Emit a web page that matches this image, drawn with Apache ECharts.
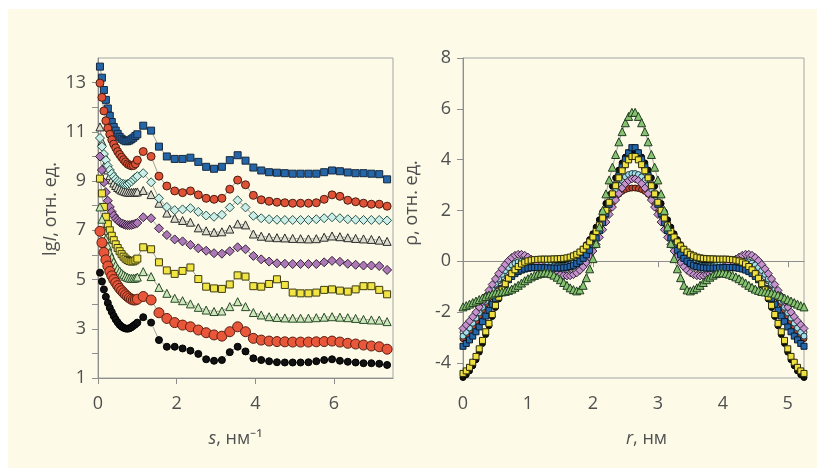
<!DOCTYPE html>
<html>
<head>
<meta charset="utf-8">
<script src="https://cdn.jsdelivr.net/npm/echarts@6/dist/echarts.min.js"></script>
<style>
    html, body { margin: 0; padding: 0; background: #fff; }
    #chart { width: 825px; height: 476px; }
</style>
</head>
<body>
<div id="chart"></div>
<script>
// левая панель: s, нм^-1
var sVals = [0.05, 0.1, 0.15, 0.2, 0.25, 0.3, 0.35, 0.4, 0.45, 0.5, 0.55, 0.6, 0.65, 0.7, 0.75, 0.8, 0.85, 0.9, 0.95, 1.0,
    1.15, 1.35, 1.55, 1.75, 1.95, 2.15, 2.35, 2.55, 2.75, 2.95, 3.15, 3.35, 3.55, 3.75, 3.95, 4.15,
    4.35, 4.55, 4.75, 4.95, 5.15, 5.35, 5.55, 5.75, 5.95, 6.15, 6.35, 6.55, 6.75, 6.95, 7.15, 7.35];

var lgBlue = [13.65, 13.2, 12.7, 12.3, 11.95, 11.65, 11.4, 11.2, 11.05, 10.92, 10.8, 10.72, 10.66, 10.62, 10.62, 10.65, 10.7, 10.76, 10.83, 10.9,
    11.25, 11.05, 10.4, 10.0, 9.9, 9.9, 9.95, 9.78, 9.58, 9.5, 9.58, 9.85, 10.05, 9.83, 9.55, 9.43,
    9.36, 9.34, 9.32, 9.3, 9.3, 9.3, 9.3, 9.36, 9.43, 9.4, 9.35, 9.32, 9.32, 9.3, 9.28, 9.07];
var lgRed = [12.98, 12.4, 11.85, 11.45, 11.15, 10.9, 10.68, 10.5, 10.35, 10.2, 10.08, 9.97, 9.87, 9.78, 9.7, 9.65, 9.62, 9.63, 9.7, 9.85,
    10.2, 10.0, 9.2, 8.8, 8.6, 8.53, 8.6, 8.44, 8.3, 8.26, 8.3, 8.67, 9.04, 8.85, 8.42, 8.24,
    8.18, 8.14, 8.12, 8.1, 8.1, 8.1, 8.12, 8.26, 8.44, 8.38, 8.22, 8.16, 8.1, 8.06, 8.06, 7.98];
var lgGrey = [11.2, 10.6, 10.1, 9.75, 9.45, 9.22, 9.05, 8.92, 8.82, 8.74, 8.68, 8.63, 8.6, 8.57, 8.55, 8.54, 8.54, 8.54, 8.55, 8.56,
    8.62, 8.45, 8.1, 7.7, 7.49, 7.4, 7.33, 7.1, 6.98, 6.92, 6.94, 7.05, 7.26, 7.22, 6.85, 6.76,
    6.72, 6.7, 6.69, 6.67, 6.66, 6.65, 6.66, 6.72, 6.77, 6.74, 6.7, 6.67, 6.65, 6.63, 6.6, 6.55];
var lgCyan = [10.75, 10.4, 10.1, 9.85, 9.62, 9.45, 9.3, 9.18, 9.08, 9.0, 8.95, 8.9, 8.88, 8.87, 8.88, 8.92, 8.98, 9.06, 9.14, 9.2,
    9.32, 8.95, 8.3, 7.95, 7.82, 7.85, 7.9, 7.75, 7.6, 7.55, 7.63, 7.93, 8.22, 7.93, 7.59, 7.49,
    7.45, 7.43, 7.42, 7.42, 7.42, 7.42, 7.45, 7.49, 7.53, 7.49, 7.45, 7.43, 7.42, 7.42, 7.42, 7.4];
var lgPurple = [10.0, 9.45, 8.95, 8.55, 8.2, 7.95, 7.75, 7.6, 7.48, 7.4, 7.33, 7.28, 7.25, 7.22, 7.21, 7.21, 7.22, 7.24, 7.27, 7.3,
    7.53, 7.49, 7.08, 6.81, 6.63, 6.55, 6.41, 6.27, 6.17, 6.07, 6.05, 6.15, 6.31, 6.23, 5.96, 5.82,
    5.73, 5.66, 5.64, 5.63, 5.63, 5.63, 5.63, 5.7, 5.76, 5.72, 5.64, 5.6, 5.57, 5.57, 5.55, 5.39];
var lgYellow = [9.1, 8.5, 7.95, 7.55, 7.25, 7.0, 6.78, 6.6, 6.43, 6.28, 6.15, 6.03, 5.93, 5.85, 5.79, 5.75, 5.73, 5.74, 5.78, 5.85,
    6.31, 6.23, 5.7, 5.37, 5.23, 5.35, 5.49, 5.02, 4.71, 4.64, 4.62, 4.8, 5.17, 5.12, 4.73, 4.71,
    4.82, 5.01, 4.78, 4.47, 4.44, 4.44, 4.47, 4.58, 4.6, 4.55, 4.51, 4.6, 4.73, 4.73, 4.58, 4.4];
var lgGreen = [7.95, 7.45, 7.0, 6.65, 6.35, 6.1, 5.9, 5.72, 5.58, 5.45, 5.35, 5.26, 5.19, 5.13, 5.09, 5.06, 5.05, 5.05, 5.06, 5.1,
    5.32, 5.12, 4.68, 4.44, 4.24, 4.14, 4.01, 3.87, 3.76, 3.7, 3.72, 3.9, 4.1, 3.9, 3.66, 3.56,
    3.49, 3.46, 3.44, 3.43, 3.43, 3.43, 3.45, 3.47, 3.49, 3.47, 3.45, 3.42, 3.38, 3.36, 3.35, 3.29];
var lgRed2 = [6.96, 6.5, 6.1, 5.8, 5.55, 5.33, 5.15, 5.0, 4.87, 4.75, 4.64, 4.55, 4.46, 4.38, 4.31, 4.25, 4.2, 4.17, 4.17, 4.2,
    4.31, 4.17, 3.65, 3.42, 3.25, 3.15, 3.08, 2.95, 2.84, 2.75, 2.7, 2.88, 3.08, 2.88, 2.61, 2.54,
    2.5, 2.48, 2.47, 2.46, 2.46, 2.46, 2.47, 2.48, 2.5, 2.46, 2.41, 2.38, 2.34, 2.3, 2.27, 2.17];
var lgBlack = [5.28, 4.92, 4.6, 4.3, 4.05, 3.85, 3.68, 3.52, 3.38, 3.26, 3.16, 3.09, 3.04, 3.01, 3.0, 3.02, 3.06, 3.12, 3.18, 3.25,
    3.47, 3.25, 2.54, 2.27, 2.27, 2.2, 2.11, 1.98, 1.76, 1.7, 1.73, 2.05, 2.27, 2.08, 1.8, 1.73,
    1.68, 1.64, 1.63, 1.63, 1.63, 1.64, 1.68, 1.73, 1.76, 1.7, 1.66, 1.63, 1.6, 1.6, 1.58, 1.53];

// правая панель: r, нм
var rVals = [0, 0.05, 0.1, 0.15, 0.2, 0.25, 0.3, 0.35, 0.4, 0.45, 0.5, 0.55, 0.6, 0.65, 0.7, 0.75, 0.8, 0.85, 0.9, 0.95,
    1, 1.05, 1.1, 1.15, 1.2, 1.25, 1.3, 1.35, 1.4, 1.45, 1.5, 1.55, 1.6, 1.65, 1.7, 1.75, 1.8, 1.85, 1.9, 1.95,
    2, 2.05, 2.1, 2.15, 2.2, 2.25, 2.3, 2.35, 2.4, 2.45, 2.5, 2.55, 2.6, 2.65, 2.7, 2.75, 2.8, 2.85, 2.9, 2.95,
    3, 3.05, 3.1, 3.15, 3.2, 3.25, 3.3, 3.35, 3.4, 3.45, 3.5, 3.55, 3.6, 3.65, 3.7, 3.75, 3.8, 3.85, 3.9, 3.95,
    4, 4.05, 4.1, 4.15, 4.2, 4.25, 4.3, 4.35, 4.4, 4.45, 4.5, 4.55, 4.6, 4.65, 4.7, 4.75, 4.8, 4.85, 4.9, 4.95,
    5, 5.05, 5.1, 5.15, 5.2, 5.25];

var rhoGreen = [-1.80, -1.75, -1.69, -1.63, -1.57, -1.51, -1.45, -1.39, -1.33, -1.29, -1.25, -1.23, -1.21, -1.19, -1.15, -1.10, -1.03, -0.95, -0.86, -0.77,
    -0.69, -0.62, -0.56, -0.51, -0.48, -0.46, -0.46, -0.49, -0.55, -0.63, -0.73, -0.84, -0.95, -1.05, -1.12, -1.17, -1.13, -0.95, -0.65, -0.30,
    0.10, 0.70, 1.35, 2.00, 2.65, 3.20, 3.70, 4.20, 4.70, 5.10, 5.45, 5.70, 5.86,
    5.86, 5.70, 5.45, 5.10, 4.70, 4.20, 3.70, 3.20, 2.65, 2.00, 1.35, 0.70, 0.10, -0.30, -0.65, -0.95, -1.13, -1.17, -1.12, -1.05,
    -0.95, -0.84, -0.73, -0.63, -0.55, -0.49, -0.46, -0.46, -0.48, -0.51, -0.56, -0.62, -0.69, -0.77, -0.86, -0.95, -1.03, -1.10, -1.15, -1.19,
    -1.21, -1.23, -1.25, -1.29, -1.33, -1.39, -1.45, -1.51, -1.57, -1.63, -1.69, -1.75, -1.80];
var rhoBlue = [-3.35, -3.24, -3.10, -2.95, -2.78, -2.59, -2.38, -2.16, -1.93, -1.70, -1.48, -1.27, -1.07, -0.89, -0.73, -0.60, -0.49, -0.41, -0.35, -0.31,
    -0.28, -0.26, -0.25, -0.25, -0.25, -0.26, -0.26, -0.27, -0.27, -0.27, -0.27, -0.26, -0.24, -0.21, -0.16, -0.09, 0.00, 0.11, 0.25, 0.43,
    0.65, 0.91, 1.20, 1.52, 1.87, 2.24, 2.62, 3.00, 3.37, 3.71, 4.01, 4.27, 4.47,
    4.47, 4.27, 4.01, 3.71, 3.37, 3.00, 2.62, 2.24, 1.87, 1.52, 1.20, 0.91, 0.65, 0.43, 0.25, 0.11, 0.00, -0.09, -0.16, -0.21,
    -0.24, -0.26, -0.27, -0.27, -0.27, -0.27, -0.26, -0.26, -0.25, -0.25, -0.25, -0.26, -0.28, -0.31, -0.35, -0.41, -0.49, -0.60, -0.73, -0.89,
    -1.07, -1.27, -1.48, -1.70, -1.93, -2.16, -2.38, -2.59, -2.78, -2.95, -3.10, -3.24, -3.35];
var rhoYellow = [-4.42, -4.32, -4.18, -3.98, -3.75, -3.45, -3.12, -2.78, -2.45, -2.10, -1.74, -1.42, -1.13, -0.89, -0.67, -0.49, -0.34, -0.21, -0.11, -0.04,
    0.01, 0.04, 0.06, 0.07, 0.08, 0.08, 0.08, 0.08, 0.09, 0.09, 0.10, 0.11, 0.13, 0.16, 0.21, 0.27, 0.36, 0.47, 0.60, 0.76,
    0.95, 1.17, 1.42, 1.70, 2.00, 2.32, 2.65, 2.97, 3.28, 3.56, 3.80, 3.99, 4.12,
    4.12, 3.99, 3.80, 3.56, 3.28, 2.97, 2.65, 2.32, 2.00, 1.70, 1.42, 1.17, 0.95, 0.76, 0.60, 0.47, 0.36, 0.27, 0.21, 0.16,
    0.13, 0.11, 0.10, 0.09, 0.09, 0.08, 0.08, 0.08, 0.08, 0.07, 0.06, 0.04, 0.01, -0.04, -0.11, -0.21, -0.34, -0.49, -0.67, -0.89,
    -1.13, -1.42, -1.74, -2.10, -2.45, -2.78, -3.12, -3.45, -3.75, -3.98, -4.18, -4.32, -4.42];
var rhoBlack = [-4.58, -4.47, -4.32, -4.12, -3.88, -3.58, -3.24, -2.89, -2.54, -2.18, -1.82, -1.49, -1.19, -0.94, -0.72, -0.54, -0.39, -0.27, -0.18, -0.11,
    -0.07, -0.05, -0.04, -0.04, -0.04, -0.05, -0.05, -0.05, -0.05, -0.05, -0.04, -0.02, 0.01, 0.06, 0.13, 0.22, 0.34, 0.48, 0.65, 0.85,
    1.08, 1.34, 1.63, 1.94, 2.27, 2.61, 2.95, 3.28, 3.59, 3.87, 4.10, 4.27, 4.37,
    4.37, 4.27, 4.10, 3.87, 3.59, 3.28, 2.95, 2.61, 2.27, 1.94, 1.63, 1.34, 1.08, 0.85, 0.65, 0.48, 0.34, 0.22, 0.13, 0.06,
    0.01, -0.02, -0.04, -0.05, -0.05, -0.05, -0.05, -0.05, -0.04, -0.04, -0.04, -0.05, -0.07, -0.11, -0.18, -0.27, -0.39, -0.54, -0.72, -0.94,
    -1.19, -1.49, -1.82, -2.18, -2.54, -2.89, -3.24, -3.58, -3.88, -4.12, -4.32, -4.47, -4.58];
var rhoRed = [-3.05, -2.92, -2.76, -2.58, -2.38, -2.16, -1.93, -1.69, -1.45, -1.21, -0.98, -0.77, -0.58, -0.42, -0.29, -0.19, -0.12, -0.07, -0.05, -0.04,
    -0.04, -0.05, -0.06, -0.07, -0.08, -0.09, -0.10, -0.11, -0.12, -0.12, -0.12, -0.11, -0.09, -0.05, 0.01, 0.09, 0.19, 0.31, 0.46, 0.63,
    0.83, 1.05, 1.29, 1.54, 1.80, 2.05, 2.28, 2.48, 2.64, 2.75, 2.82, 2.86, 2.88,
    2.88, 2.86, 2.82, 2.75, 2.64, 2.48, 2.28, 2.05, 1.80, 1.54, 1.29, 1.05, 0.83, 0.63, 0.46, 0.31, 0.19, 0.09, 0.01, -0.05,
    -0.09, -0.11, -0.12, -0.12, -0.12, -0.11, -0.10, -0.09, -0.08, -0.07, -0.06, -0.05, -0.04, -0.04, -0.05, -0.07, -0.12, -0.19, -0.29, -0.42,
    -0.58, -0.77, -0.98, -1.21, -1.45, -1.69, -1.93, -2.16, -2.38, -2.58, -2.76, -2.92, -3.05];
var rhoPurple = [-2.65, -2.51, -2.36, -2.19, -2.01, -1.81, -1.60, -1.38, -1.15, -0.92, -0.70, -0.49, -0.30, -0.13, 0.02, 0.14, 0.23, 0.27, 0.27, 0.23,
    0.16, 0.08, -0.01, -0.09, -0.17, -0.25, -0.32, -0.39, -0.45, -0.50, -0.54, -0.57, -0.58, -0.57, -0.53, -0.46, -0.36, -0.22, -0.05, 0.16,
    0.40, 0.66, 0.94, 1.24, 1.54, 1.84, 2.13, 2.41, 2.66, 2.88, 3.05, 3.17, 3.24,
    3.24, 3.17, 3.05, 2.88, 2.66, 2.41, 2.13, 1.84, 1.54, 1.24, 0.94, 0.66, 0.40, 0.16, -0.05, -0.22, -0.36, -0.46, -0.53, -0.57,
    -0.58, -0.57, -0.54, -0.50, -0.45, -0.39, -0.32, -0.25, -0.17, -0.09, -0.01, 0.08, 0.16, 0.23, 0.27, 0.27, 0.23, 0.14, 0.02, -0.13,
    -0.30, -0.49, -0.70, -0.92, -1.15, -1.38, -1.60, -1.81, -2.01, -2.19, -2.36, -2.51, -2.65];
var rhoCyan = [-2.95, -2.80, -2.63, -2.44, -2.24, -2.03, -1.81, -1.58, -1.35, -1.12, -0.90, -0.70, -0.52, -0.37, -0.25, -0.15, -0.08, -0.03, 0.00, 0.01,
    0.00, -0.02, -0.04, -0.07, -0.10, -0.13, -0.15, -0.17, -0.19, -0.20, -0.21, -0.20, -0.18, -0.14, -0.08, 0.00, 0.11, 0.25, 0.42, 0.62,
    0.85, 1.10, 1.37, 1.65, 1.94, 2.22, 2.50, 2.76, 2.99, 3.18, 3.32, 3.41, 3.45,
    3.45, 3.41, 3.32, 3.18, 2.99, 2.76, 2.50, 2.22, 1.94, 1.65, 1.37, 1.10, 0.85, 0.62, 0.42, 0.25, 0.11, 0.00, -0.08, -0.14,
    -0.18, -0.20, -0.21, -0.20, -0.19, -0.17, -0.15, -0.13, -0.10, -0.07, -0.04, -0.02, 0.00, 0.01, 0.00, -0.03, -0.08, -0.15, -0.25, -0.37,
    -0.52, -0.70, -0.90, -1.12, -1.35, -1.58, -1.81, -2.03, -2.24, -2.44, -2.63, -2.80, -2.95];
var rhoGrey = [-2.80, -2.66, -2.50, -2.33, -2.14, -1.94, -1.73, -1.52, -1.31, -1.11, -0.92, -0.76, -0.62, -0.51, -0.42, -0.35, -0.30, -0.27, -0.25, -0.25,
    -0.25, -0.26, -0.27, -0.28, -0.29, -0.31, -0.32, -0.33, -0.34, -0.35, -0.35, -0.34, -0.32, -0.28, -0.22, -0.13, -0.02, 0.12, 0.29, 0.49,
    0.72, 0.97, 1.24, 1.53, 1.83, 2.12, 2.40, 2.67, 2.91, 3.11, 3.26, 3.35, 3.39,
    3.39, 3.35, 3.26, 3.11, 2.91, 2.67, 2.40, 2.12, 1.83, 1.53, 1.24, 0.97, 0.72, 0.49, 0.29, 0.12, -0.02, -0.13, -0.22, -0.28,
    -0.32, -0.34, -0.35, -0.35, -0.34, -0.33, -0.32, -0.31, -0.29, -0.28, -0.27, -0.26, -0.25, -0.25, -0.25, -0.27, -0.30, -0.35, -0.42, -0.51,
    -0.62, -0.76, -0.92, -1.11, -1.31, -1.52, -1.73, -1.94, -2.14, -2.33, -2.50, -2.66, -2.80];

var FONT = 'Open Sans';
var TXT = '#4f4f4f';
var AXIS = '#8e8e8e';

function pairs(xs, ys) {
    return xs.map(function (x, i) { return [x, ys[i]]; });
}

function line(idx, xs, ys, symbol, size, fill, edge) {
    return {
        type: 'line',
        xAxisIndex: idx,
        yAxisIndex: idx,
        data: pairs(xs, ys),
        symbol: symbol,
        symbolSize: size,
        showAllSymbol: true,
        lineStyle: { color: '#8a8a8a', width: 0.8 },
        itemStyle: { color: fill, borderColor: edge, borderWidth: 1 },
        emphasis: { disabled: true },
        silent: true
    };
}

function axisBase() {
    return {
        type: 'value',
        axisLine: { show: true, lineStyle: { color: AXIS, width: 1 } },
        axisTick: { show: true, inside: false, length: 6, lineStyle: { color: AXIS } },
        splitLine: { show: false },
        axisLabel: { fontFamily: FONT, fontSize: 18, color: TXT },
        nameTextStyle: { fontFamily: FONT, fontSize: 18, color: TXT }
    };
}

function rich() {
    return {
        n: { fontFamily: FONT, fontSize: 18, color: TXT },
        i: { fontFamily: FONT, fontSize: 18, color: TXT, fontStyle: 'italic' }
    };
}

var x0 = axisBase();
x0.gridIndex = 0; x0.min = 0; x0.max = 7.5; x0.interval = 2;
x0.axisLabel.margin = 17; x0.axisLabel.showMaxLabel = false;
x0.name = '{i|s}{n|, нм⁻¹}'; x0.nameLocation = 'middle'; x0.nameGap = 52;
x0.nameTextStyle.rich = rich(); x0.nameTextStyle.padding = [0, 20, 0, 0];

var x1 = axisBase();
x1.gridIndex = 1; x1.min = 0; x1.max = 5.25; x1.interval = 1;
x1.axisLabel.margin = 17; x1.axisLabel.showMaxLabel = false;
x1.name = '{i|r}{n|, нм}'; x1.nameLocation = 'middle'; x1.nameGap = 52;
x1.nameTextStyle.rich = rich(); x1.nameTextStyle.padding = [0, 0, 0, 26];

var y0 = axisBase();
y0.gridIndex = 0; y0.min = 1; y0.max = 14; y0.interval = 1;
y0.axisLabel.margin = 12;
y0.axisLabel.formatter = function (v) { return v % 2 === 1 ? String(v) : ''; };
y0.axisLabel.showMaxLabel = false;
y0.name = '{n|lg}{i|I}{n|, отн. ед.}'; y0.nameLocation = 'middle'; y0.nameGap = 38;
y0.nameTextStyle.rich = rich(); y0.nameTextStyle.padding = [0, 0, 0, 18];

var y1 = axisBase();
y1.gridIndex = 1; y1.min = -4.6; y1.max = 8; y1.minInterval = 2; y1.maxInterval = 2;
y1.axisLabel.margin = 12; y1.axisLabel.showMinLabel = false;
y1.name = '{n|ρ, отн. ед.}'; y1.nameLocation = 'middle'; y1.nameGap = 42;
y1.nameTextStyle.rich = rich(); y1.nameTextStyle.padding = [0, 0, 0, 30];

var chart = echarts.init(document.getElementById('chart'));
chart.setOption({
    animation: false,
    backgroundColor: '#ffffff',
    graphic: [{
        type: 'rect', z: -10, silent: true,
        shape: { x: 8, y: 9, width: 809, height: 459 },
        style: { fill: '#fdfbe8' }
    }],
    grid: [
        { left: 98, top: 58, width: 295, height: 320, show: true, borderColor: '#a5a5a5', borderWidth: 1, backgroundColor: 'transparent' },
        { left: 463, top: 58, width: 341, height: 320, show: true, borderColor: '#a5a5a5', borderWidth: 1, backgroundColor: 'transparent' }
    ],
    xAxis: [x0, x1],
    yAxis: [y0, y1],
    series: [
        line(0, sVals, lgBlue, 'rect', 7, '#2566a8', '#16283e'),
        line(0, sVals, lgRed, 'circle', 8, '#df5236', '#4a1c10'),
        line(0, sVals, lgGrey, 'triangle', 8, '#dcdccc', '#2a2a2a'),
        line(0, sVals, lgCyan, 'diamond', 9, '#cdeee6', '#25564f'),
        line(0, sVals, lgPurple, 'diamond', 9, '#ad78b6', '#34203a'),
        line(0, sVals, lgYellow, 'rect', 7, '#f1e443', '#3e3c10'),
        line(0, sVals, lgGreen, 'triangle', 8, '#cfe6bb', '#264c26'),
        line(0, sVals, lgRed2, 'circle', 10, '#e8573a', '#5a1e10'),
        line(0, sVals, lgBlack, 'circle', 7, '#111111', '#000000'),

        line(1, rVals, rhoRed, 'circle', 6, '#b94a30', '#3a140c'),
        line(1, rVals, rhoBlack, 'circle', 6, '#111111', '#000000'),
        line(1, rVals, rhoGrey, 'circle', 6, '#e2e2dc', '#3a3a3a'),
        line(1, rVals, rhoCyan, 'circle', 6, '#a6dde6', '#1e3f48'),
        line(1, rVals, rhoPurple, 'diamond', 8, '#c592cc', '#33263c'),
        line(1, rVals, rhoBlue, 'rect', 6, '#2467ab', '#0a1a2c'),
        line(1, rVals, rhoYellow, 'rect', 6, '#f0e040', '#2c2c0a'),
        line(1, rVals, rhoGreen, 'triangle', 8, '#86c270', '#203c20')
    ]
});
</script>
</body>
</html>
